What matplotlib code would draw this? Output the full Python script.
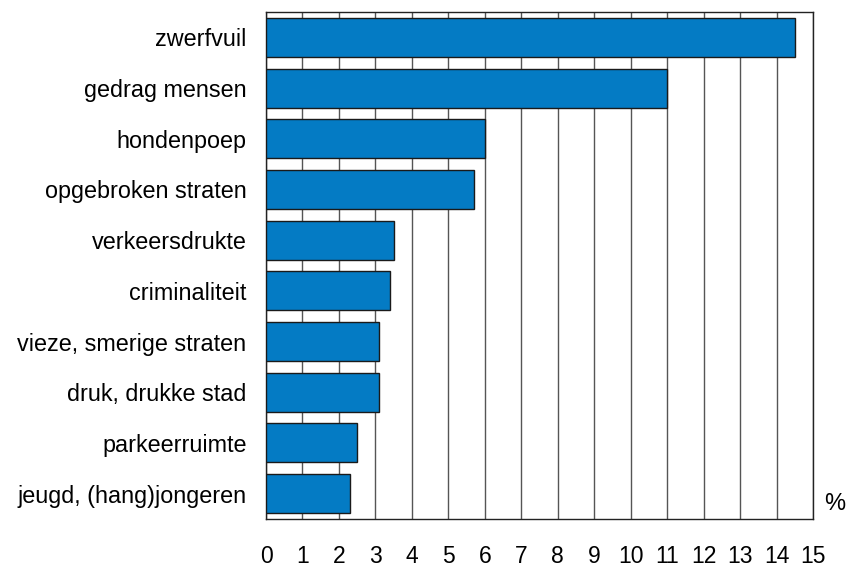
import matplotlib
matplotlib.use("Agg")
import matplotlib.pyplot as plt

categories = ["zwerfvuil", "gedrag mensen", "hondenpoep", "opgebroken straten",
              "verkeersdrukte", "criminaliteit", "vieze, smerige straten",
              "druk, drukke stad", "parkeerruimte", "jeugd, (hang)jongeren"]
values = [14.5, 11.0, 6.0, 5.7, 3.5, 3.4, 3.1, 3.1, 2.5, 2.3]
xticks = list(range(0, 16))

plt.rcParams['font.family'] = ['Liberation Sans', 'DejaVu Sans']

fig = plt.figure(figsize=(8.46, 5.67), dpi=100)
ax = fig.add_axes([266/846, 1-519/567, (813-266)/846, (519-12)/567])

y = list(range(len(categories)))
ax.barh(y, values, height=0.77, color='#047bc4', edgecolor='#1a1a1a', linewidth=1.0, zorder=3)
ax.set_ylim(len(categories) - 0.5, -0.5)
ax.set_xlim(0, 15)
ax.set_xticks(xticks)
ax.set_xticklabels([str(t) for t in xticks], fontsize=16.5)
ax.set_yticks(y)
ax.set_yticklabels(categories, fontsize=16.8)
ax.tick_params(axis='x', length=0, pad=19)
ax.tick_params(axis='y', length=0, pad=14)
ax.xaxis.grid(True, color='#555555', linewidth=1.0, zorder=0)
ax.set_axisbelow(True)
for s in ax.spines.values():
    s.set_color('#222222')
    s.set_linewidth(1.0)
fig.text(835/846, 1-504/567, '%', fontsize=17, ha='center', va='center')

fig.savefig('out.png', dpi=100)
